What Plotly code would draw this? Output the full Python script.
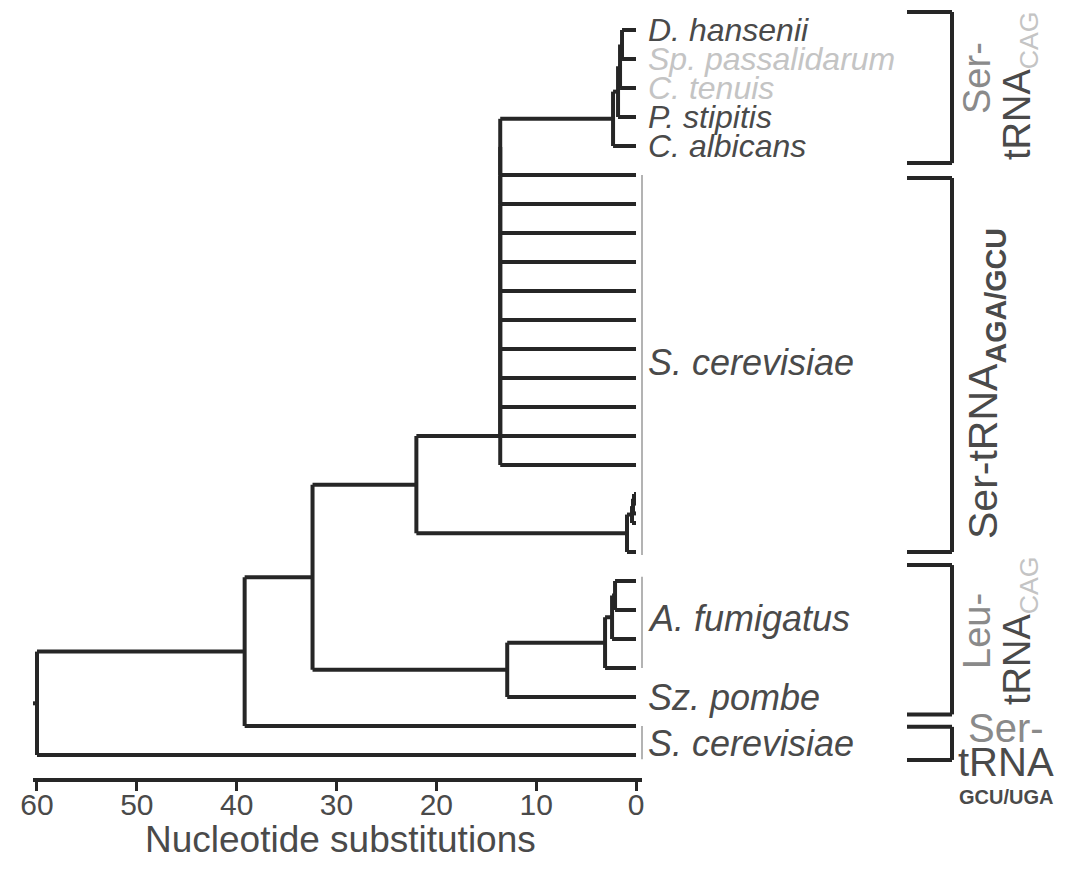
import plotly.graph_objects as go

# ---------------- data ----------------
leaf_ids = (["D_hansenii", "Sp_passalidarum", "C_tenuis", "P_stipitis", "C_albicans"]
            + [f"Sc_AGA_{i}" for i in range(1, 12)]
            + ["Sc_b1", "Sc_b2", "Sc_b3", "Sc_b4", "Sc_b5"]
            + ["Af1", "Af2", "Af3", "Af4", "Sz_pombe", "Sc_GCU1", "Sc_GCU2"])
leaf_rows = [0, 1, 2, 3, 4,
             5, 6, 7, 8, 9, 10, 11, 12, 13, 14, 15,
             16, 16.33, 16.67, 17, 18,
             19, 20, 21, 22, 23, 24, 25]

node_ids = (["cand1", "cand2", "cand3", "cand4"]
            + [f"sc{i}" for i in range(5, 16)]
            + ["scb1", "scb2", "scb3", "scb4", "nodeC",
               "af1", "af2", "af3", "nodeE", "nodeB", "nodeA", "root"])
node_heights = ([1.4, 1.6, 1.8, 2.3]
                + [13.6] * 11
                + [0.2, 0.3, 0.4, 0.9, 22.0,
                   2.1, 2.4, 3.1, 12.9, 32.4, 39.2, 60.0])
node_children = ([["D_hansenii", "Sp_passalidarum"], ["cand1", "C_tenuis"],
                  ["cand2", "P_stipitis"], ["cand3", "C_albicans"],
                  ["cand4", "Sc_AGA_1"]]
                 + [[f"sc{i-1}", f"Sc_AGA_{i-4}"] for i in range(6, 16)]
                 + [["Sc_b1", "Sc_b2"], ["scb1", "Sc_b3"], ["scb2", "Sc_b4"],
                    ["scb3", "Sc_b5"], ["sc15", "scb4"],
                    ["Af1", "Af2"], ["af1", "Af3"], ["af2", "Af4"],
                    ["af3", "Sz_pombe"], ["nodeC", "nodeE"],
                    ["nodeB", "Sc_GCU1"], ["nodeA", "Sc_GCU2"]])

label_texts = ["D. hansenii", "Sp. passalidarum", "C. tenuis", "P. stipitis",
               "C. albicans", "S. cerevisiae", "A. fumigatus", "Sz. pombe",
               "S. cerevisiae"]
label_rows = [0, 1, 2, 3, 4, 11.45, 20.3, 23, 24.6]
label_faded = [False, True, True, False, False, False, False, False, False]

group_box_spans = [(5, 18.1), (18.85, 22), (24, 25.15)]
bracket_spans = [(-0.62, 4.59), (5.1, 18.0), (18.45, 23.6), (24.03, 25.17)]

x_ticks = [60, 50, 40, 30, 20, 10, 0]
x_title = "Nucleotide substitutions"

# ---------------- geometry helpers ----------------
OFF = 8                    # browser body margin
W, H = 1068 - 2 * OFF, 878 - 2 * OFF
PL, PR = 33 - OFF, 642 - OFF   # plot area pixel bounds (figure coords)
PB = 778 - OFF                 # plot area bottom pixel (figure coords)
XR = [60.4, -0.6]
ROW_TOP_PX, ROW_STEP = 30 - OFF, 29
YR = [(PB - ROW_TOP_PX) / ROW_STEP, -ROW_TOP_PX / ROW_STEP]


def px2x(p):  # p: screen pixel in reference
    return (p - OFF - PL) / (PR - PL)


def px2y(p):
    return (PB - (p - OFF)) / PB


# ---------------- tree layout ----------------
ypos = dict(zip(leaf_ids, leaf_rows))
hpos = {lid: 0.0 for lid in leaf_ids}
xs, ys = [], []
for nid, h, ch in zip(node_ids, node_heights, node_children):
    cy = [ypos[c] for c in ch]
    ypos[nid] = sum(cy) / len(cy)
    hpos[nid] = h
    xs += [h, h, None]
    ys += [min(cy), max(cy), None]
    for c in ch:
        xs += [h, hpos[c], None]
        ys += [ypos[c], ypos[c], None]
# root stub
xs += [60.0, 60.5, None]
ys += [ypos["root"], ypos["root"], None]

LINE = "#262626"
TEXT = "#4a4a4a"
FADE = "#c4c4c4"
FONT = "Liberation Sans, Arial, sans-serif"

fig = go.Figure()
fig.add_trace(go.Scatter(x=xs, y=ys, mode="lines",
                         line=dict(color=LINE, width=4),
                         hoverinfo="skip", showlegend=False))

shapes = []
for a, b in group_box_spans:
    shapes.append(dict(type="line", xref="paper", yref="y",
                       x0=px2x(642), x1=px2x(642), y0=a, y1=b,
                       line=dict(color="#9a9a9a", width=1.5)))
for a, b in bracket_spans:
    for (x0, y0, x1, y1) in [(907, a, 952, a), (952, a, 952, b), (907, b, 952, b)]:
        shapes.append(dict(type="line", xref="paper", yref="y",
                           x0=px2x(x0), x1=px2x(x1), y0=y0, y1=y1,
                           line=dict(color=LINE, width=4)))

ann = []
for t, r, f in zip(label_texts, label_rows, label_faded):
    ann.append(dict(text=f"<i>{t}</i>", xref="paper", yref="y",
                    x=px2x(646), y=r, xanchor="left", yanchor="middle",
                    showarrow=False,
                    font=dict(family=FONT, size=32 if r < 5 else 36,
                              color=FADE if f else TEXT)))


def rot(text, cx, cy, size, color=TEXT):
    ann.append(dict(text=text, xref="paper", yref="paper",
                    x=px2x(cx), y=px2y(cy), xanchor="center", yanchor="middle",
                    textangle=-90, showarrow=False,
                    font=dict(family=FONT, size=size, color=color)))


def hor(text, cx, cy, size, color=TEXT):
    ann.append(dict(text=text, xref="paper", yref="paper",
                    x=px2x(cx), y=px2y(cy), xanchor="center", yanchor="middle",
                    showarrow=False,
                    font=dict(family=FONT, size=size, color=color)))


rot("Ser-", 977, 78, 38, "#8a8a8a")
rot(f"tRNA<sub><span style='color:{FADE}'>CAG</span></sub>", 1020, 86, 38)
rot("Ser-tRNA<sub><b>AGA/GCU</b></sub>", 986, 384, 41)
rot("Leu-", 977, 631, 38, "#8a8a8a")
rot(f"tRNA<sub><span style='color:{FADE}'>CAG</span></sub>", 1020, 631, 38)
hor("Ser-", 1006, 728, 40, "#8a8a8a")
hor("tRNA", 1006, 762, 40)
hor("<b>GCU/UGA</b>", 1006, 797, 20)
hor(x_title, 340, 840, 37)

fig.update_layout(
    width=W, height=H,
    margin=dict(l=PL, r=W - PR, t=0, b=H - PB),
    paper_bgcolor="white", plot_bgcolor="white",
    shapes=shapes, annotations=ann,
    xaxis=dict(range=XR, tickvals=x_ticks, ticktext=[str(v) for v in x_ticks],
               showgrid=False, zeroline=False, showline=True,
               linecolor=LINE, linewidth=4, ticks="outside",
               ticklen=9, tickwidth=3, tickcolor=LINE,
               ticklabelstandoff=-12,
               tickfont=dict(family=FONT, size=30, color=TEXT)),
    yaxis=dict(range=YR, visible=False, showgrid=False, zeroline=False),
    showlegend=False,
)

fig.write_html("out.html")
